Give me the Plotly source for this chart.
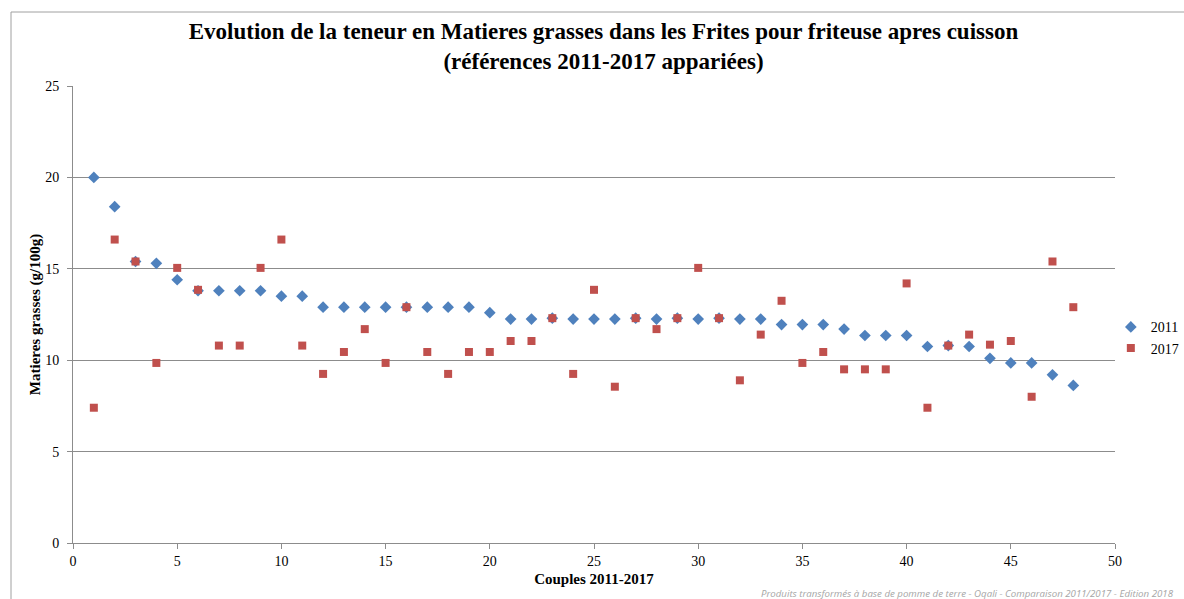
import plotly.graph_objects as go

couples = list(range(1, 49))
mg_2011 = [20.0, 18.4, 15.4, 15.3, 14.4, 13.8, 13.8, 13.8, 13.8, 13.5,
           13.5, 12.9, 12.9, 12.9, 12.9, 12.9, 12.9, 12.9, 12.9, 12.6,
           12.25, 12.25, 12.3, 12.25, 12.25, 12.25, 12.3, 12.25, 12.3, 12.25,
           12.3, 12.25, 12.25, 11.95, 11.95, 11.95, 11.7, 11.35, 11.35, 11.35,
           10.75, 10.8, 10.75, 10.1, 9.85, 9.85, 9.2, 8.62]
mg_2017 = [7.4, 16.6, 15.4, 9.85, 15.05, 13.85, 10.8, 10.8, 15.05, 16.6,
           10.8, 9.25, 10.45, 11.7, 9.85, 12.9, 10.45, 9.25, 10.45, 10.45,
           11.05, 11.05, 12.3, 9.25, 13.85, 8.55, 12.3, 11.7, 12.3, 15.05,
           12.3, 8.9, 11.4, 13.25, 9.85, 10.45, 9.5, 9.5, 9.5, 14.2,
           7.4, 10.8, 11.4, 10.85, 11.05, 8.0, 15.4, 12.9]

title_text = ("<b>Evolution de la teneur en Matieres grasses dans les Frites pour friteuse apres cuisson"
              "<br>(références 2011-2017 appariées)</b>")
x_title = "<b>Couples 2011-2017</b>"
y_title = "<b>Matieres grasses (g/100g)</b>"
footer = "Produits transformés à base de pomme de terre - Oqali - Comparaison 2011/2017 - Edition 2018"

serif = "Liberation Serif"

fig = go.Figure()
fig.add_trace(go.Scatter(x=couples, y=mg_2011, mode="markers", name="2011",
                         marker=dict(symbol="diamond", size=9, color="#4F81BD")))
fig.add_trace(go.Scatter(x=couples, y=mg_2017, mode="markers", name="2017",
                         marker=dict(symbol="square", size=8, color="#C0504D")))

axis_color = "#8C8C8C"
fig.update_layout(
    width=1184, height=599,
    paper_bgcolor="white", plot_bgcolor="white",
    margin=dict(l=73, r=69, t=86, b=56, autoexpand=False),
    title=dict(text=title_text, x=(603.5 - 73) / 1042, xref="paper", xanchor="center",
               y=1 - 39 / 599, yref="container", yanchor="middle",
               font=dict(family=serif, size=23, color="black")),
    xaxis=dict(range=[0, 50], dtick=5, tick0=0, showgrid=False, zeroline=False,
               showline=True, linecolor=axis_color, linewidth=1,
               ticks="outside", ticklen=5, tickcolor=axis_color,
               tickfont=dict(family=serif, size=14, color="black"),
               title=dict(text=x_title, font=dict(family=serif, size=15, color="black"), standoff=5)),
    yaxis=dict(range=[0, 25], dtick=5, tick0=0, showgrid=True, gridcolor=axis_color, gridwidth=1,
               zeroline=False, showline=True, linecolor=axis_color, linewidth=1,
               ticks="outside", ticklen=5, tickcolor=axis_color, ticklabelstandoff=5,
               tickfont=dict(family=serif, size=14, color="black"),
               title=dict(text=y_title, font=dict(family=serif, size=15, color="black"), standoff=0)),
    legend=dict(x=0.996, xanchor="left", y=0.449, yanchor="middle",
                font=dict(family=serif, size=14, color="black"),
                bgcolor="rgba(0,0,0,0)", tracegroupgap=0, itemwidth=30),
    showlegend=True,
)

fig.add_shape(type="rect", xref="paper", yref="paper",
              x0=(11 - 73) / 1042, x1=(1200 - 73) / 1042,
              y0=(543 - 620) / 457, y1=(543 - 12) / 457,
              line=dict(color="#A0A0A0", width=1), fillcolor="rgba(0,0,0,0)", layer="below")

fig.add_annotation(text="<i>" + footer + "</i>", xref="paper", yref="paper",
                   x=(759 - 73) / 1042, y=(543 - 593) / 457, xanchor="left", yanchor="middle",
                   showarrow=False, font=dict(family="Open Sans", size=9.7, color="#A6A6A6"))

fig.write_html("out.html", post_script="document.body.style.margin='0';",
               config={"displayModeBar": False})
